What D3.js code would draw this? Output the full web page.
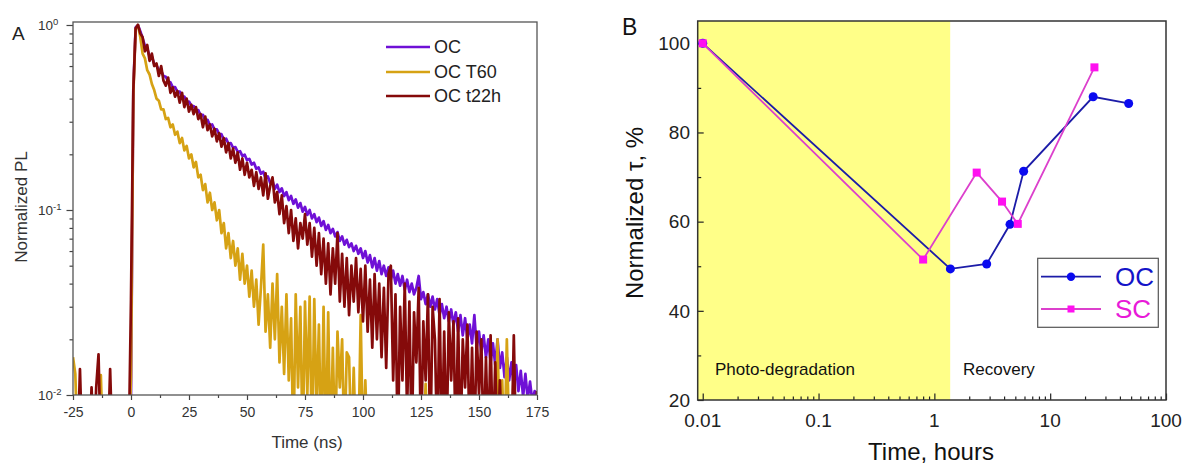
<!DOCTYPE html>
<html><head><meta charset="utf-8">
<script src="https://cdn.jsdelivr.net/npm/d3@7"></script>
<style>body{margin:0;background:#fff} text{font-family:"Liberation Sans",Arial,sans-serif}</style>
</head><body><svg id="c" width="1185" height="467"></svg>
<script>
// ---------- Panel A data (time in ns, normalized PL) ----------
const timeNs = [-25,-24,-23,-22,-21,-20,-19,-18,-17,-16,-15,-14,-13,-12,-11,-10,-9,-8,-7,-6,-5,-4,-3,-2,-1,
0,1,2,3,4,5,6,7,8,9,10,11,12,13,14,15,16,17,18,19,20,21,22,23,24,25,26,27,28,29,30,31,32,33,34,35,36,37,38,39,
40,41,42,43,44,45,46,47,48,49,50,51,52,53,54,55,56,57,58,59,60,61,62,63,64,65,66,67,68,69,70,71,72,73,74,75,76,77,78,79,
80,81,82,83,84,85,86,87,88,89,90,91,92,93,94,95,96,97,98,99,100,101,102,103,104,105,106,107,108,109,110,111,112,113,114,115,116,117,118,119,
120,121,122,123,124,125,126,127,128,129,130,131,132,133,134,135,136,137,138,139,140,141,142,143,144,145,146,147,148,149,
150,151,152,153,154,155,156,157,158,159,160,161,162,163,164,165,166,167,168,169,170,171,172,173,174,175];

const plOC = [0.005,0.005,0.005,0.005,0.005,0.005,0.005,0.005,0.005,0.005,
0.005,0.005,0.005,0.005,0.005,0.005,0.005,0.005,0.005,0.005,
0.005,0.005,0.005,0.005,0.005,
0.01,0.45,0.97,1.0,0.925,0.85,0.77,0.745,0.68,0.675,
0.615,0.605,0.57,0.565,0.53,0.525,0.495,0.49,0.46,0.462,
0.435,0.437,0.41,0.41,0.385,0.386,0.366,0.365,0.345,0.347,
0.325,0.327,0.305,0.307,0.288,0.29,0.272,0.273,0.257,0.257,
0.24,0.243,0.228,0.23,0.217,0.219,0.206,0.208,0.196,0.199,
0.186,0.189,0.176,0.18,0.167,0.17,0.157,0.161,0.148,0.152,
0.14,0.144,0.13,0.137,0.125,0.131,0.119,0.125,0.113,0.119,
0.108,0.114,0.103,0.109,0.098,0.104,0.094,0.1,0.09,0.095,
0.086,0.091,0.082,0.087,0.078,0.083,0.075,0.079,0.072,0.076,
0.068,0.072,0.065,0.069,0.063,0.066,0.06,0.064,0.058,0.062,
0.055,0.06,0.052,0.057,0.049,0.055,0.047,0.053,0.045,0.05,
0.044,0.049,0.042,0.047,0.04,0.045,0.039,0.044,0.037,0.042,
0.036,0.04,0.035,0.038,0.044,0.033,0.036,0.031,0.035,0.03,
0.034,0.029,0.033,0.027,0.031,0.026,0.03,0.025,0.029,0.024,
0.028,0.022,0.027,0.021,0.026,0.02,0.024,0.019,0.027,0.018,
0.022,0.017,0.021,0.016,0.02,0.015,0.019,0.0145,0.02,0.014,
0.017,0.0125,0.016,0.012,0.015,0.0112,0.0145,0.0105,0.0135,0.0098,
0.013,0.0095,0.0118,0.0092,0.0105,0.0098];

const plT60 = [0.016,0.013,0.005,0.005,0.005,0.005,0.005,0.005,0.005,0.005,
0.005,0.005,0.0128,0.005,0.005,0.005,0.005,0.005,0.005,0.005,
0.005,0.005,0.005,0.005,0.005,
0.0125,0.42,0.95,1.0,0.86,0.7,0.66,0.57,0.54,0.48,
0.445,0.4,0.39,0.35,0.35,0.31,0.315,0.28,0.29,0.255,
0.265,0.23,0.245,0.21,0.222,0.19,0.2,0.17,0.182,0.15,
0.155,0.128,0.138,0.11,0.124,0.1,0.11,0.088,0.1,0.075,
0.085,0.062,0.075,0.055,0.068,0.05,0.062,0.042,0.058,0.04,
0.05,0.034,0.047,0.03,0.042,0.024,0.038,0.065,0.022,0.035,
0.018,0.04,0.02,0.045,0.015,0.03,0.013,0.035,0.012,0.026,
0.005,0.035,0.011,0.03,0.005,0.032,0.01,0.034,0.005,0.033,
0.008,0.024,0.005,0.03,0.005,0.028,0.005,0.018,0.005,0.022,
0.011,0.02,0.005,0.017,0.016,0.005,0.014,0.005,0.005,0.027,
0.005,0.012,0.005,0.005,0.005,0.005,0.005,0.005,0.005,0.005,
0.005,0.005,0.005,0.005,0.005,0.005,0.005,0.005,0.005,0.005,
0.005,0.005,0.005,0.005,0.005,0.005,0.005,0.0115,0.005,0.005,
0.005,0.005,0.005,0.005,0.005,0.005,0.005,0.005,0.005,0.005,
0.005,0.005,0.005,0.005,0.005,0.005,0.005,0.005,0.005,0.005,
0.005,0.005,0.005,0.005,0.005,0.005,0.005,0.005,0.02,0.005,
0.012,0.005,0.02,0.006,0.005,0.014,0.005,0.005,0.005,0.005,
0.005,0.005,0.005,0.005,0.005,0.005];

const plT22 = [0.005,0.005,0.005,0.0138,0.005,0.005,0.005,0.005,0.011,0.005,
0.011,0.0166,0.005,0.005,0.005,0.005,0.0138,0.005,0.005,0.005,
0.005,0.005,0.005,0.005,0.005,
0.033,0.44,0.96,1.0,0.9,0.86,0.72,0.78,0.64,0.7,
0.6,0.62,0.53,0.6,0.5,0.47,0.52,0.43,0.46,0.41,
0.44,0.38,0.43,0.36,0.4,0.34,0.37,0.33,0.36,0.31,
0.33,0.28,0.32,0.27,0.29,0.25,0.275,0.235,0.26,0.22,
0.245,0.205,0.23,0.19,0.215,0.18,0.205,0.165,0.19,0.155,
0.18,0.15,0.165,0.135,0.16,0.13,0.15,0.12,0.158,0.115,
0.135,0.15,0.11,0.125,0.095,0.12,0.085,0.105,0.075,0.1,
0.068,0.09,0.062,0.085,0.07,0.095,0.065,0.085,0.056,0.08,
0.05,0.075,0.045,0.07,0.04,0.066,0.035,0.062,0.04,0.075,
0.032,0.058,0.03,0.055,0.027,0.05,0.032,0.055,0.028,0.048,
0.025,0.05,0.022,0.042,0.018,0.045,0.02,0.04,0.016,0.038,
0.014,0.045,0.05,0.012,0.035,0.005,0.03,0.012,0.04,0.008,
0.032,0.005,0.028,0.015,0.038,0.005,0.025,0.012,0.035,0.005,
0.03,0.02,0.005,0.033,0.005,0.022,0.005,0.028,0.012,0.025,
0.005,0.026,0.005,0.02,0.011,0.024,0.005,0.018,0.005,0.022,
0.01,0.02,0.005,0.016,0.005,0.021,0.005,0.015,0.005,0.012,
0.005,0.005,0.005,0.005,0.005,0.021,0.005,0.005,0.005,0.005,
0.005,0.005,0.005,0.005,0.005,0.0105];

const seriesA = ["OC","OC T60","OC t22h"];
const colorsA = ["#6f10d6","#d6a214","#850a0a"];
const xTicksA = [-25,0,25,50,75,100,125,150,175];
const xMinorA = [-12.5,12.5,37.5,62.5,87.5,112.5,137.5,162.5];
const yTicksA = [0.01,0.1,1];
const yExpA = ["-2","-1","0"];
const yMinorA = [0.02,0.03,0.04,0.05,0.06,0.07,0.08,0.09,0.2,0.3,0.4,0.5,0.6,0.7,0.8,0.9];

// ---------- Panel B data (time in hours, normalized tau %) ----------
const hoursOC = [0.01,1.375,2.83,4.5,5.9,23.5,47.6];
const tauOC   = [100,49.4,50.5,59.4,71.3,88.0,86.5];
const hoursSC = [0.01,0.80,2.32,3.84,5.25,24.1];
const tauSC   = [100,51.5,71.0,64.5,59.5,94.6];
const recoveryStart = 1.37;
const xTicksB = [0.01,0.1,1,10,100];
const xLabelsB = ["0.01","0.1","1","10","100"];
const xMinorB = [0.02,0.03,0.04,0.05,0.06,0.07,0.08,0.09,0.2,0.3,0.4,0.5,0.6,0.7,0.8,0.9,2,3,4,5,6,7,8,9,20,30,40,50,60,70,80,90];
const yTicksB = [20,40,60,80,100];
const yMinorB = [30,50,70,90];

const svg = d3.select("#c");

// ================= Panel A =================
const A = {l:73, r:537, t:22, b:395};
const xA = d3.scaleLinear().domain([-25,175]).range([A.l, A.r]);
const yA = d3.scaleLog().domain([0.01,1.038]).range([A.b, A.t]);

svg.append("clipPath").attr("id","clipA").append("rect")
  .attr("x",A.l).attr("y",A.t).attr("width",A.r-A.l).attr("height",A.b-A.t);

const dataA = [plOC, plT60, plT22];
const lineA = d3.line().x((d,i)=>xA(timeNs[i])).y(d=>yA(d));
const gA = svg.append("g").attr("clip-path","url(#clipA)");
dataA.forEach((arr,k)=>{
  gA.append("path").datum(arr).attr("d",lineA).attr("fill","none")
    .attr("stroke",colorsA[k]).attr("stroke-width",2.7).attr("stroke-linejoin","round");
});

function styleAxis(g, col){
  g.select(".domain").remove();
  g.selectAll(".tick line").attr("stroke",col).attr("stroke-width",1.2);
}
// x axis
svg.append("g").attr("transform",`translate(0,${A.b})`)
  .call(d3.axisBottom(xA).tickValues(xMinorA).tickSize(3).tickFormat(""))
  .call(g=>styleAxis(g,"#444"));
svg.append("g").attr("transform",`translate(0,${A.b})`)
  .call(d3.axisBottom(xA).tickValues(xTicksA).tickSize(5).tickPadding(7).tickFormat(d=>String(d)))
  .call(g=>{styleAxis(g,"#444"); g.selectAll("text").attr("font-size",14).attr("fill","#333")
     .attr("font-family","Liberation Sans, Arial, sans-serif");});
// y axis
svg.append("g").attr("transform",`translate(${A.l},0)`)
  .call(d3.axisLeft(yA).tickValues(yMinorA).tickSize(3.5).tickFormat(""))
  .call(g=>styleAxis(g,"#444"));
svg.append("g").attr("transform",`translate(${A.l},0)`)
  .call(d3.axisLeft(yA).tickValues(yTicksA).tickSize(6.5).tickFormat(""))
  .call(g=>styleAxis(g,"#444"));
const yLab = svg.append("g").selectAll("text").data(yTicksA).join("text")
  .attr("x",38).attr("y",d=>yA(d)+5).attr("font-size",13.5).attr("fill","#333");
yLab.append("tspan").text("10");
yLab.append("tspan").attr("dy",-5).attr("font-size",9.5).text((d,i)=>yExpA[i]);
// frame
svg.append("rect").attr("x",A.l).attr("y",A.t).attr("width",A.r-A.l).attr("height",A.b-A.t)
  .attr("fill","none").attr("stroke","#555").attr("stroke-width",1.3);
// titles
svg.append("text").attr("x",12).attr("y",40).attr("font-size",19).attr("fill","#222").text("A");
svg.append("text").attr("transform","translate(27,207) rotate(-90)").attr("text-anchor","middle")
  .attr("font-size",17).attr("fill","#333").text("Normalized PL");
svg.append("text").attr("x",307).attr("y",448).attr("text-anchor","middle")
  .attr("font-size",17).attr("fill","#333").text("Time (ns)");
// legend
const legA = svg.append("g").selectAll("g").data(seriesA).join("g")
  .attr("transform",(d,i)=>`translate(0,${[47,72,96][i]})`);
legA.append("line").attr("x1",386).attr("x2",430).attr("stroke",(d,i)=>colorsA[i]).attr("stroke-width",2.7);
legA.append("text").attr("x",434).attr("dy","0.36em").attr("font-size",18).attr("fill","#222").text(d=>d);

// ================= Panel B =================
const B = {l:697.7, r:1166, t:21, b:400};
const xB = d3.scaleLog().domain([0.00905,100]).range([B.l, B.r]);
const yB = d3.scaleLinear().domain([20,105]).range([B.b, B.t]);

svg.append("rect").attr("x",B.l).attr("y",B.t).attr("width",xB(recoveryStart)-B.l).attr("height",B.b-B.t)
  .attr("fill","#ffff88");

svg.append("g").attr("transform",`translate(0,${B.b})`)
  .call(d3.axisBottom(xB).tickValues(xMinorB).tickSize(-3.5).tickFormat(""))
  .call(g=>styleAxis(g,"#222"));
svg.append("g").attr("transform",`translate(0,${B.b})`)
  .call(d3.axisBottom(xB).tickValues(xTicksB).tickSize(-6.5).tickFormat(""))
  .call(g=>styleAxis(g,"#222"));
svg.append("g").attr("transform",`translate(${B.l},0)`)
  .call(d3.axisLeft(yB).tickValues(yMinorB).tickSize(-3.5).tickFormat(""))
  .call(g=>styleAxis(g,"#222"));
svg.append("g").attr("transform",`translate(${B.l},0)`)
  .call(d3.axisLeft(yB).tickValues(yTicksB).tickSize(-6).tickFormat(""))
  .call(g=>styleAxis(g,"#222"));
svg.append("rect").attr("x",B.l).attr("y",B.t).attr("width",B.r-B.l).attr("height",B.b-B.t)
  .attr("fill","none").attr("stroke","#333").attr("stroke-width",1.5);

svg.append("g").selectAll("text").data(xTicksB).join("text")
  .attr("x",d=>xB(d)).attr("y",427).attr("text-anchor","middle").attr("font-size",19).attr("fill","#222")
  .text((d,i)=>xLabelsB[i]);
svg.append("g").selectAll("text").data(yTicksB).join("text")
  .attr("x",690).attr("y",d=>yB(d)).attr("dy","0.36em").attr("text-anchor","end").attr("font-size",19).attr("fill","#222")
  .text(d=>d);

svg.append("text").attr("x",931).attr("y",460).attr("text-anchor","middle").attr("font-size",24).attr("fill","#111").text("Time, hours");
svg.append("text").attr("transform","translate(643,213) rotate(-90)").attr("text-anchor","middle")
  .attr("font-size",24).attr("fill","#111").text("Normalized τ, %");
svg.append("text").attr("x",622).attr("y",35).attr("font-size",23).attr("fill","#111").text("B");
svg.append("text").attr("x",715).attr("y",375).attr("font-size",17).attr("fill","#111").text("Photo-degradation");
svg.append("text").attr("x",963).attr("y",375).attr("font-size",17).attr("fill","#111").text("Recovery");

const ocPts = hoursOC.map((h,i)=>[h,tauOC[i]]);
const scPts = hoursSC.map((h,i)=>[h,tauSC[i]]);
const lineB = d3.line().x(d=>xB(d[0])).y(d=>yB(d[1]));
svg.append("path").datum(ocPts).attr("d",lineB).attr("fill","none").attr("stroke","#1c1ca8").attr("stroke-width",1.8);
svg.append("g").selectAll("circle").data(ocPts).join("circle")
  .attr("cx",d=>xB(d[0])).attr("cy",d=>yB(d[1])).attr("r",4.5).attr("fill","#0a0af0");
svg.append("path").datum(scPts).attr("d",lineB).attr("fill","none").attr("stroke","#dc40cc").attr("stroke-width",1.8);
svg.append("g").selectAll("rect").data(scPts).join("rect")
  .attr("x",d=>xB(d[0])-4).attr("y",d=>yB(d[1])-4).attr("width",8).attr("height",8).attr("fill","#ff10f0");

// legend B
svg.append("rect").attr("x",1037.7).attr("y",258.3).attr("width",120.6).attr("height",69)
  .attr("fill","#fff").attr("stroke","#555").attr("stroke-width",1.2);
svg.append("line").attr("x1",1041).attr("x2",1101).attr("y1",276.7).attr("y2",276.7).attr("stroke","#1c1ca8").attr("stroke-width",1.8);
svg.append("circle").attr("cx",1071).attr("cy",276.7).attr("r",4.2).attr("fill","#0a0af0");
svg.append("text").attr("x",1115).attr("y",276.7).attr("dy","0.36em").attr("font-size",26).attr("fill","#1414c8").text("OC");
svg.append("line").attr("x1",1041).attr("x2",1101).attr("y1",309).attr("y2",309).attr("stroke","#dc40cc").attr("stroke-width",1.8);
svg.append("rect").attr("x",1067.5).attr("y",305.5).attr("width",7).attr("height",7).attr("fill","#ff10f0");
svg.append("text").attr("x",1115).attr("y",309).attr("dy","0.36em").attr("font-size",26).attr("fill","#e81ad8").text("SC");
</script>
</body></html>
